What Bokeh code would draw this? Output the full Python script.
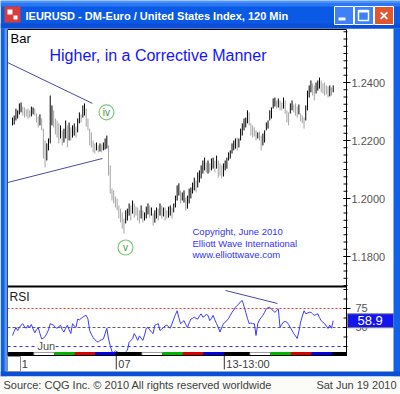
from bokeh.plotting import figure
from bokeh.models import Range1d, Label, BoxAnnotation
from bokeh.core.properties import value
from bokeh.embed import file_html
from bokeh.resources import INLINE

# ---------------- data ----------------
high = [1.2279, 1.2286, 1.2310, 1.2304, 1.2328, 1.2331, 1.2317, 1.2314, 1.2307, 1.2310,
        1.2304, 1.2317, 1.2314, 1.2310, 1.2293, 1.2283, 1.2290, 1.2276, 1.2241, 1.2200,
        1.2190, 1.2207, 1.2355, 1.2321, 1.2304, 1.2276, 1.2269, 1.2259, 1.2252, 1.2235,
        1.2241, 1.2269, 1.2252, 1.2262, 1.2245, 1.2252, 1.2259, 1.2248, 1.2276, 1.2297,
        1.2290, 1.2321, 1.2328, 1.2310, 1.2276, 1.2241, 1.2228, 1.2200, 1.2190, 1.2193,
        1.2183, 1.2190, 1.2186, 1.2193, 1.2207, 1.2217, 1.2183, 1.2114, 1.2034, 1.2028,
        1.2007, 1.2000, 1.1976, 1.1965, 1.1952, 1.1931, 1.1959, 1.1965, 1.1983, 1.1976,
        1.1993, 1.1983, 1.1972, 1.1969, 1.1959, 1.1976, 1.1959, 1.1952, 1.1972, 1.1983,
        1.1976, 1.1969, 1.1948, 1.1959, 1.1969, 1.1965, 1.1983, 1.1976, 1.1969, 1.1969,
        1.1959, 1.1972, 1.1976, 1.1969, 1.1983, 1.2010, 1.2045, 1.2052, 1.2028, 1.2021,
        1.2028, 1.2003, 1.2010, 1.2034, 1.2038, 1.2055, 1.2072, 1.2062, 1.2090, 1.2097,
        1.2114, 1.2131, 1.2141, 1.2124, 1.2131, 1.2121, 1.2138, 1.2141, 1.2131, 1.2148,
        1.2131, 1.2121, 1.2114, 1.2121, 1.2131, 1.2141, 1.2159, 1.2166, 1.2190, 1.2200,
        1.2207, 1.2210, 1.2207, 1.2241, 1.2259, 1.2276, 1.2279, 1.2304, 1.2297, 1.2259,
        1.2252, 1.2245, 1.2235, 1.2228, 1.2231, 1.2217, 1.2224, 1.2235, 1.2262, 1.2269,
        1.2304, 1.2314, 1.2345, 1.2348, 1.2338, 1.2345, 1.2338, 1.2331, 1.2348, 1.2338,
        1.2304, 1.2297, 1.2328, 1.2338, 1.2324, 1.2328, 1.2317, 1.2324, 1.2293, 1.2286,
        1.2279, 1.2321, 1.2372, 1.2390, 1.2407, 1.2397, 1.2390, 1.2400, 1.2407, 1.2417,
        1.2407, 1.2397, 1.2400, 1.2390, 1.2386, 1.2390, 1.2383, 1.2390]
low = [1.2252, 1.2255, 1.2269, 1.2276, 1.2290, 1.2297, 1.2286, 1.2279, 1.2283, 1.2276,
       1.2279, 1.2283, 1.2290, 1.2286, 1.2262, 1.2245, 1.2252, 1.2235, 1.2138, 1.2107,
       1.2131, 1.2166, 1.2190, 1.2252, 1.2245, 1.2221, 1.2210, 1.2190, 1.2207, 1.2183,
       1.2193, 1.2207, 1.2176, 1.2200, 1.2200, 1.2210, 1.2217, 1.2210, 1.2228, 1.2259,
       1.2262, 1.2279, 1.2286, 1.2248, 1.2235, 1.2183, 1.2176, 1.2159, 1.2155, 1.2166,
       1.2159, 1.2162, 1.2159, 1.2166, 1.2169, 1.2172, 1.2079, 1.2017, 1.1993, 1.1983,
       1.1969, 1.1959, 1.1931, 1.1917, 1.1896, 1.1879, 1.1914, 1.1924, 1.1941, 1.1924,
       1.1948, 1.1934, 1.1941, 1.1924, 1.1914, 1.1931, 1.1917, 1.1924, 1.1931, 1.1945,
       1.1934, 1.1941, 1.1907, 1.1917, 1.1931, 1.1924, 1.1941, 1.1931, 1.1938, 1.1924,
       1.1931, 1.1934, 1.1941, 1.1931, 1.1952, 1.1969, 1.1993, 1.2010, 1.1983, 1.1993,
       1.1986, 1.1959, 1.1965, 1.1983, 1.2000, 1.2017, 1.2028, 1.2021, 1.2038, 1.2055,
       1.2069, 1.2086, 1.2097, 1.2090, 1.2086, 1.2090, 1.2097, 1.2103, 1.2090, 1.2103,
       1.2072, 1.2079, 1.2069, 1.2076, 1.2097, 1.2103, 1.2131, 1.2138, 1.2155, 1.2166,
       1.2172, 1.2166, 1.2176, 1.2200, 1.2217, 1.2235, 1.2245, 1.2259, 1.2252, 1.2217,
       1.2210, 1.2214, 1.2200, 1.2207, 1.2200, 1.2166, 1.2183, 1.2193, 1.2235, 1.2241,
       1.2269, 1.2276, 1.2310, 1.2317, 1.2310, 1.2314, 1.2304, 1.2304, 1.2310, 1.2293,
       1.2262, 1.2252, 1.2293, 1.2304, 1.2297, 1.2286, 1.2279, 1.2290, 1.2266, 1.2259,
       1.2241, 1.2269, 1.2304, 1.2348, 1.2366, 1.2355, 1.2338, 1.2362, 1.2372, 1.2379,
       1.2366, 1.2362, 1.2355, 1.2359, 1.2348, 1.2352, 1.2355, 1.2366]
rsi = [39.5, 45, 50, 46, 50, 53, 55, 51, 49, 53, 50, 54, 48, 43, 47, 50, 42, 35, 36, 38,
       42, 47, 55, 54, 53, 50, 49, 51, 53, 47, 44, 49, 53, 47, 42, 55, 52, 50, 61, 60,
       62, 63.6, 65, 66, 61, 46, 41, 37, 34, 32, 30.7, 33, 34, 35, 42, 49, 35, 26, 18, 17,
       19, 18, 16, 17, 15, 14, 18, 20, 30.7, 33, 35, 42, 38, 33, 39, 36, 33, 40, 49, 50,
       47, 44, 42, 53, 54, 55, 46, 48, 50, 52, 53, 51, 49, 55, 61, 67, 72, 63, 55, 57,
       59, 54, 50, 56, 61, 62, 63.6, 62, 61, 65, 68, 63.6, 65, 67, 66, 59, 62, 66, 60, 55,
       50, 44, 50, 55, 57, 59, 62, 66, 70, 73, 76.7, 79, 81, 84, 85.5, 78, 70, 62, 55, 56,
       55, 55, 39.5, 55, 60, 63, 66, 70, 74.6, 76, 76.7, 74, 72, 70, 72, 74.6, 50, 54, 57, 58,
       57, 54, 50, 46, 42, 39, 35.5, 45, 57, 65, 72, 68, 69, 70, 70, 68, 66, 67, 68, 63,
       59, 57, 55, 52, 48.7, 53, 49, 58.9]
last_rsi = 58.9

session_start = [-2.5, 12.5, 24.5, 36.5, 48.5, 60.5, 75.5, 87.5, 99.5, 111.5,
                 123.5, 138.5, 150.5, 162.5, 174.5, 186.5]
session_end = [12.5, 24.5, 36.5, 48.5, 60.5, 75.5, 87.5, 99.5, 111.5, 123.5,
               138.5, 150.5, 162.5, 174.5, 186.5, 201.5]
session_day = ["Mon", "Tue", "Wed", "Thu", "Fri", "Mon", "Tue", "Wed", "Thu", "Fri",
               "Mon", "Tue", "Wed", "Thu", "Fri", "Mon"]

x_tick_pos = [4.3, 60.5, 123.5]
x_tick_labels = ["1", "07", "13-13:00"]
price_ticks = [1.18, 1.20, 1.22, 1.24]
price_tick_labels = ["1.1800", "1.2000", "1.2200", "1.2400"]
rsi_levels = [75, 50, 25]
rsi_label_levels = [75, 50]
rsi_level_labels = ["75", "50"]

upper_trend_x = [-2.9, 46.6]
upper_trend_y = [1.2469, 1.2328]
lower_trend_x = [-2.9, 52.5]
lower_trend_y = [1.2055, 1.2138]
rsi_trend_x = [124.2, 154.5]
rsi_trend_y = [98.7, 81.6]

wave_labels = ["iv", "v"]
wave_x = [54.8, 65.9]
wave_y = [1.2297, 1.1831]

# ---------------- layout (pixel geometry of the window) ----------------
W, H = 400, 394
BAR0_PX, BAR_PX = 12.0, 1.715          # where bar 0 sits and bar spacing
P_REF, P_REF_PX, P_STEP, P_STEP_PX = 1.24, 82.0, 0.02, 58.0
R_REF, R_REF_PX, R_STEP, R_STEP_PX = 50.0, 327.0, 25.0, 19.0
FL, FR, FT, FB = 7, 346, 29, 355       # chart frame
SPLIT_PX, BAND_TOP_PX = 286, 352

def xd(px):
    return (px - BAR0_PX) / BAR_PX

def pd(py):
    return P_REF - (py - P_REF_PX) * P_STEP / P_STEP_PX

def rd(py):
    return R_REF + (R_REF_PX - py) * R_STEP / R_STEP_PX

p = figure(width=W, height=H, output_backend="svg", toolbar_location=None,
           x_range=Range1d(xd(0), xd(W)), y_range=Range1d(pd(H), pd(0)),
           min_border=0, x_axis_location=None, y_axis_location=None)
p.extra_y_ranges = {"rsi": Range1d(rd(H), rd(0))}
p.grid.visible = False
p.outline_line_color = None
p.background_fill_color = "white"
p.border_fill_color = "white"

FONT = "Liberation Sans"
VF = value(FONT)

def cbox(l, r, t, b, fill, line=None, lw=1, level="annotation"):
    p.add_layout(BoxAnnotation(left=l, right=r, top=t, bottom=b, left_units="canvas",
                               right_units="canvas", top_units="canvas", bottom_units="canvas",
                               fill_color=fill if fill else "white", fill_alpha=1 if fill else 0,
                               line_color=line if line else "white", line_alpha=1 if line else 0,
                               line_width=lw, level=level))

# price bars
idx = list(range(len(high)))
mids = [(h + l) / 2 for h, l in zip(high, low)]
bar_col = ["#000000" if i == 0 or mids[i] >= mids[i - 1] else "#a4a4a4" for i in idx]
p.segment(x0=idx, y0=low, x1=idx, y1=high, line_color=bar_col, line_width=1)

# trend lines
p.line(upper_trend_x, upper_trend_y, line_color="#4a4a9a", line_width=1)
p.line(lower_trend_x, lower_trend_y, line_color="#4a4a9a", line_width=1)

# wave labels
p.scatter(wave_x, wave_y, marker="circle", size=15, fill_color=None,
          line_color="#7cc87c", line_width=1.2)
p.text(wave_x, wave_y, text=wave_labels, text_align="center", text_baseline="middle",
       text_color="#3c9a3c", text_font_size="10px", text_font=VF)

# panel separator
p.segment(x0=[xd(FL)], x1=[xd(FR)], y0=[pd(SPLIT_PX)], y1=[pd(SPLIT_PX)],
          line_color="black", line_width=2)

# RSI panel
for lvl, col, dash in zip(rsi_levels, ["#ff3030", "#606060", "#3030ff"], ["2 2", "3 2", "3 3"]):
    p.segment(x0=[xd(FL)], x1=[xd(FR)], y0=[lvl], y1=[lvl], y_range_name="rsi",
              line_color=col, line_dash=dash, line_width=1)
p.line(idx, rsi, y_range_name="rsi", line_color="#3a3aff", line_width=1)
p.line(rsi_trend_x, rsi_trend_y, y_range_name="rsi", line_color="#4a4a9a", line_width=1)

# day colour band
day_fill = {"Mon": "#000000", "Tue": "#ffffff", "Wed": "#00b400", "Thu": "#d80000", "Fri": "#0000e0"}
day_line = {"Mon": "#000000", "Tue": "#a0a0a0", "Wed": "#00b400", "Thu": "#d80000", "Fri": "#0000e0"}
p.quad(left=[max(s, xd(FL)) for s in session_start],
       right=[min(e, xd(FR)) for e in session_end],
       bottom=rd(FB), top=rd(BAND_TOP_PX), y_range_name="rsi",
       fill_color=[day_fill[d] for d in session_day],
       line_color=[day_line[d] for d in session_day], line_width=1)

p.add_layout(Label(x=xd(37), y=rd(345), y_range_name="rsi", text="Jun",
                   text_font=FONT, text_font_size="11px", text_color="#505050",
                   text_baseline="middle", background_fill_color="white"))

# right price scale
minor = [round(1.1700 + 0.0025 * k, 4) for k in range(36)]
p.segment(x0=xd(FR - 3), x1=xd(FR + 1), y0=minor, y1=minor, line_color="black")
p.segment(x0=xd(FR - 3), x1=xd(FR + 4), y0=price_ticks, y1=price_ticks, line_color="black")
p.text(x=xd(FR + 5), y=price_ticks, text=price_tick_labels, text_baseline="middle",
       text_font=VF, text_font_size="11px", text_color="#555555")

# right RSI scale
rsi_minor = [25 + 12.5 * k for k in range(7)]
p.segment(x0=xd(FR - 3), x1=xd(FR + 1), y0=rsi_minor, y1=rsi_minor, y_range_name="rsi",
          line_color="black")
p.segment(x0=xd(FR - 3), x1=xd(FR + 4), y0=rsi_label_levels, y1=rsi_label_levels,
          y_range_name="rsi", line_color="black")
p.text(x=xd(355), y=rsi_label_levels, text=rsi_level_labels, y_range_name="rsi",
       text_baseline="middle", y_offset=-1, text_font=VF, text_font_size="11px",
       text_color="#555555")

# bottom time scale
p.segment(x0=x_tick_pos, x1=x_tick_pos, y0=rd(FB), y1=rd(FB + 14), y_range_name="rsi",
          line_color="#303030")
p.text(x=x_tick_pos, y=rd(FB + 8), text=x_tick_labels, y_range_name="rsi", x_offset=2,
       text_baseline="middle", text_font=VF, text_font_size="11px", text_color="#404040")

# frame
cbox(FL, FR, FT, FB, None, "black")

# last value box
p.add_layout(BoxAnnotation(left=FR + 1, right=393, left_units="canvas", right_units="canvas",
                           top=last_rsi + 7 * R_STEP / R_STEP_PX,
                           bottom=last_rsi - 7 * R_STEP / R_STEP_PX,
                           y_range_name="rsi", fill_color="#1414ee", fill_alpha=1,
                           line_color="#8a8a8a", line_alpha=1))
p.add_layout(Label(x=357, x_units="canvas", y=last_rsi, y_range_name="rsi",
                   text=f"{last_rsi}", text_font=FONT, text_font_size="13px",
                   text_color="white", text_baseline="middle"))

# chart texts
p.add_layout(Label(x=10, y=38, x_units="canvas", y_units="canvas", text="Bar",
                   text_font=FONT, text_font_size="13px", text_color="black",
                   text_baseline="middle"))
p.add_layout(Label(x=9, y=296, x_units="canvas", y_units="canvas", text="RSI",
                   text_font=FONT, text_font_size="12px", text_color="#202020",
                   text_baseline="middle"))
p.add_layout(Label(x=49, y=55, x_units="canvas", y_units="canvas",
                   text="Higher, in a Corrective Manner", text_font=FONT,
                   text_font_size="16px", text_color="#1414ff", text_baseline="middle"))
for t, yy in zip(["Copyright, June 2010", "Elliott Wave International", "www.elliottwave.com"],
                 [231, 243, 254]):
    p.add_layout(Label(x=192, y=yy, x_units="canvas", y_units="canvas", text=t,
                       text_font=FONT, text_font_size="9.5px", text_color="#3232ff",
                       text_baseline="middle"))

# window chrome
cbox(0, W, 0, 28, "#0b5ae6")
cbox(0, W, 0, 3, "#4a93fa")
cbox(0, W, 3, 6, "#2a78f2")
cbox(0, W, 23, 28, "#0a4fd6")
cbox(0, 6, 28, 376, "#1060e8")
cbox(4, 7, 28, 372, "#5d94f0")
cbox(393, W, 28, 376, "#1060e8")
cbox(0, W, 371, 376, "#0a4fd6")
cbox(0, W, 376, H, "#fbfbf8")
# title icon
cbox(4, 20, 6, 22, "#d83c3c")
cbox(7, 12, 9, 14, "#ffffff")
cbox(13, 17, 15, 19, "#ffffff")
p.add_layout(Label(x=25, y=15, x_units="canvas", y_units="canvas",
                   text="IEURUSD - DM-Euro / United States Index, 120 Min",
                   text_font=FONT, text_font_size="11px", text_font_style="bold",
                   text_color="white", text_baseline="middle"))
# window buttons
cbox(334, 353, 6, 24, "#3f80f6", "white")
cbox(338, 345, 17, 20, "white")
cbox(354, 373, 6, 24, "#3f80f6", "white")
cbox(358, 368, 10, 20, None, "white", 1.5)
cbox(358, 368, 10, 12, "white")
cbox(374, 393, 6, 24, "#e2562e", "white")
p.add_layout(Label(x=383.5, y=15, x_units="canvas", y_units="canvas", text="✕",
                   text_font=FONT, text_font_size="12px", text_font_style="bold",
                   text_color="white", text_align="center", text_baseline="middle"))
# small scroll box at lower left
cbox(7, 20, 356, 371, "white", "#8c8c8c")
# status line
p.add_layout(Label(x=3, y=384, x_units="canvas", y_units="canvas",
                   text="Source: CQG Inc. © 2010 All rights reserved worldwide",
                   text_font=FONT, text_font_size="11px", text_color="#404040",
                   text_baseline="middle"))
p.add_layout(Label(x=396, y=384, x_units="canvas", y_units="canvas",
                   text="Sat Jun 19 2010", text_font=FONT, text_font_size="11px",
                   text_color="#404040", text_baseline="middle", text_align="right"))

open("out.html", "w").write(file_html(p, INLINE))
